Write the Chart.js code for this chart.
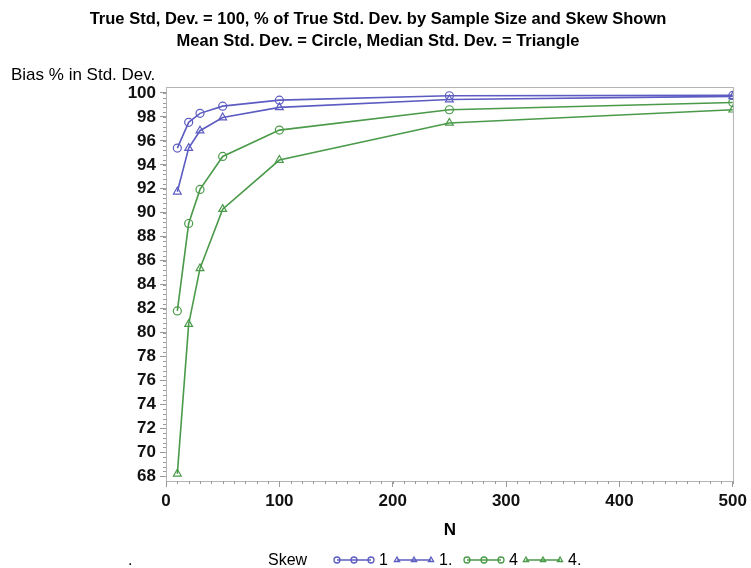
<!DOCTYPE html>
<html>
<head>
<meta charset="utf-8">
<script src="https://cdn.jsdelivr.net/npm/chart.js@4.4.1/dist/chart.umd.min.js"></script>
<style>
  html, body { margin: 0; padding: 0; background: #ffffff; }
  #wrap { width: 751px; height: 568px; position: relative; }
</style>
</head>
<body>
<div id="wrap"><canvas id="c" width="751" height="568"></canvas></div>
<script>
// ---- data ----
const sampleSizes = [10, 20, 30, 50, 100, 250, 500];
const skew1Mean   = [95.4, 97.55, 98.3, 98.9, 99.4, 99.77, 99.8];
const skew1Median = [91.75, 95.4, 96.85, 97.95, 98.8, 99.45, 99.72];
const skew4Mean   = [81.8, 89.1, 91.95, 94.7, 96.9, 98.6, 99.2];
const skew4Median = [68.2, 80.7, 85.35, 90.3, 94.4, 97.5, 98.6];
const seriesLabels = ['1', '1.', '4', '4.'];
const yTickValues = [68, 70, 72, 74, 76, 78, 80, 82, 84, 86, 88, 90, 92, 94, 96, 98, 100];
const xTickValues = [0, 100, 200, 300, 400, 500];
const titleLines = [
  'True Std, Dev. = 100, % of True Std. Dev. by Sample Size and Skew Shown',
  'Mean Std. Dev. = Circle, Median Std. Dev. = Triangle'
];
const yAxisTitle = 'Bias % in Std. Dev.';
const xAxisTitle = 'N';
const legendTitle = 'Skew';

const BLUE = '#5c5cc2';
const GREEN = '#4a9a4a';
const FONT = '"Liberation Sans", Arial, sans-serif';

function pts(vals) { return sampleSizes.map((n, i) => ({ x: n, y: vals[i] })); }
function ds(label, vals, color, style) {
  return {
    label: label, data: pts(vals), showLine: true,
    borderColor: color, borderWidth: 1.6,
    pointStyle: style, pointRadius: style === 'triangle' ? 4.5 : 4,
    pointBorderColor: color, pointBackgroundColor: 'rgba(0,0,0,0)',
    pointBorderWidth: 1.2, tension: 0
  };
}

const decor = {
  id: 'decor',
  afterDraw(chart) {
    const ctx = chart.ctx, a = chart.chartArea;
    const xs = chart.scales.x, ys = chart.scales.y;
    ctx.save();
    // frame
    ctx.strokeStyle = '#b4b4b4';
    ctx.lineWidth = 1;
    ctx.strokeRect(a.left + 0.5, a.top + 0.5, a.right - a.left - 1, a.bottom - a.top);
    // minor ticks
    ctx.strokeStyle = '#9a9a9a';
    ctx.beginPath();
    for (let v = 68; v <= 100.001; v += 0.4) {
      const y = Math.round(ys.getPixelForValue(v)) + 0.5;
      ctx.moveTo(a.left, y); ctx.lineTo(a.left - 3, y);
    }
    for (let v = 0; v <= 500; v += 10) {
      const x = Math.round(xs.getPixelForValue(v)) + 0.5;
      ctx.moveTo(x, a.bottom); ctx.lineTo(x, a.bottom + 3);
    }
    ctx.stroke();
    // titles
    ctx.fillStyle = '#000';
    ctx.textAlign = 'center';
    ctx.textBaseline = 'middle';
    ctx.font = 'bold 16.5px ' + FONT;
    ctx.fillText(titleLines[0], 378, 19);
    ctx.fillText(titleLines[1], 378, 41);
    // y axis title
    ctx.textAlign = 'left';
    ctx.font = '17px ' + FONT;
    ctx.fillText(yAxisTitle, 11, 75);
    // x axis title
    ctx.textAlign = 'center';
    ctx.font = 'bold 17px ' + FONT;
    ctx.fillText(xAxisTitle, 450, 530);
    // legend
    ctx.font = '16px ' + FONT;
    ctx.textAlign = 'left';
    ctx.fillText('.', 128, 561);
    ctx.fillText(legendTitle, 268, 561);
    const starts = [337, 397, 467, 526];
    chart.data.datasets.forEach((d, i) => {
      const x0 = starts[i], y0 = 560;
      ctx.strokeStyle = d.borderColor;
      ctx.lineWidth = 1.3;
      ctx.beginPath(); ctx.moveTo(x0, y0); ctx.lineTo(x0 + 34, y0); ctx.stroke();
      for (let k = 0; k < 3; k++) {
        ctx.fillStyle = 'rgba(0,0,0,0)';
        ctx.strokeStyle = d.borderColor;
        Chart.helpers.drawPoint(ctx, {
          pointStyle: d.pointStyle, radius: 3, borderWidth: 1, rotation: 0
        }, x0 + k * 17, y0);
      }
      ctx.fillStyle = '#000';
      ctx.fillText(d.label, x0 + 42, 561);
    });
    ctx.restore();
  }
};

new Chart(document.getElementById('c'), {
  type: 'scatter',
  data: {
    datasets: [
      ds(seriesLabels[0], skew1Mean, BLUE, 'circle'),
      ds(seriesLabels[1], skew1Median, BLUE, 'triangle'),
      ds(seriesLabels[2], skew4Mean, GREEN, 'circle'),
      ds(seriesLabels[3], skew4Median, GREEN, 'triangle')
    ]
  },
  options: {
    responsive: false,
    animation: false,
    layout: { padding: { top: 87, right: 13, bottom: 0, left: 0 } },
    plugins: { legend: { display: false }, title: { display: false }, tooltip: { enabled: false } },
    scales: {
      x: {
        type: 'linear', min: 0, max: 501,
        afterFit(s) { s.height = 87; },
        afterBuildTicks(s) { s.ticks = xTickValues.map(v => ({ value: v })); },
        border: { display: false },
        grid: { display: true, drawOnChartArea: false, tickLength: 6, color: '#9a9a9a' },
        ticks: { color: '#111', font: { family: FONT, size: 17, weight: 'bold' }, padding: 4, maxRotation: 0 }
      },
      y: {
        type: 'linear', min: 67.6, max: 100.5,
        afterFit(s) { s.width = 166; },
        afterBuildTicks(s) { s.ticks = yTickValues.map(v => ({ value: v })); },
        border: { display: false },
        grid: { display: true, drawOnChartArea: false, tickLength: 6, color: '#9a9a9a' },
        ticks: { color: '#111', font: { family: FONT, size: 17, weight: 'bold' }, padding: 4 }
      }
    }
  },
  plugins: [decor]
});
</script>
</body>
</html>
